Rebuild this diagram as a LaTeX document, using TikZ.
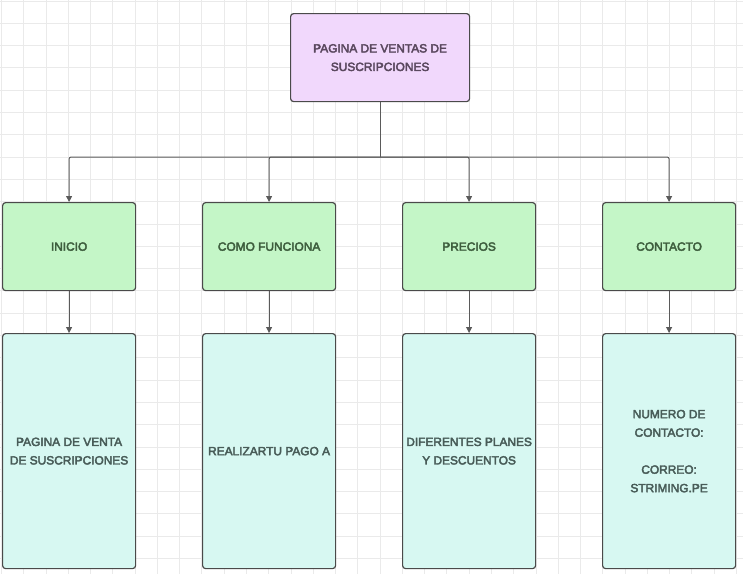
\documentclass[tikz,border=0pt]{standalone}
\usepackage{fontspec}
\setmainfont{Liberation Sans}[FakeBold=3.4]
\usetikzlibrary{arrows.meta}
\definecolor{gridline}{HTML}{EAEAEA}
\definecolor{edge}{HTML}{4A4A4A}
\definecolor{wire}{HTML}{5A5A5A}
\definecolor{lavender}{HTML}{F1D8FC}
\definecolor{mint}{HTML}{C4F6C7}
\definecolor{aqua}{HTML}{D7F8F2}
\definecolor{lavtext}{HTML}{5A485E}
\definecolor{minttext}{HTML}{3E5E3E}
\definecolor{aquatext}{HTML}{485C58}
\tikzset{
  card/.style={draw=edge, line width=1.2pt, rounded corners=3pt, anchor=north west,
    align=center, inner sep=0pt, font=\fontsize{11.9}{18.5}\selectfont},
  rootcard/.style={card, fill=lavender, text=lavtext, minimum width=179pt, minimum height=88pt},
  menucard/.style={card, fill=mint, text=minttext, minimum width=133pt, minimum height=88pt},
  infocard/.style={card, fill=aqua, text=aquatext, minimum width=133pt, minimum height=235pt},
  link/.style={draw=wire, line width=1pt, rounded corners=2pt},
  arrowlink/.style={link, -{Triangle[length=6pt,width=6pt]}}
}
\begin{document}
\begin{tikzpicture}[x=1pt,y=-1pt]
\useasboundingbox (0,0) rectangle (743,574);
% background grid
\foreach \i in {0,...,33} \draw[gridline, line width=0.9pt] ({1.5+22.27*\i},0) -- ({1.5+22.27*\i},574);
\foreach \j in {0,...,25} \draw[gridline, line width=0.9pt] (0,{1+22.3*\j}) -- (743,{1+22.3*\j});

% root
\node[rootcard] (root) at (290,13) {PAGINA DE VENTAS DE\\SUSCRIPCIONES};

% menu row
\node[menucard] (inicio) at (2,202) {INICIO};
\node[menucard] (como) at (202,202) {COMO FUNCIONA};
\node[menucard] (precios) at (402,202) {PRECIOS};
\node[menucard] (contacto) at (602,202) {CONTACTO};

% detail row
\node[infocard] (dinicio) at (2,333) {PAGINA DE VENTA\\DE SUSCRIPCIONES};
\node[infocard] (dcomo) at (202,333) {REALIZARTU PAGO A};
\node[infocard] (dprecios) at (402,333) {DIFERENTES PLANES\\Y DESCUENTOS};
\node[infocard] (dcontacto) at (602,333) {NUMERO DE\\CONTACTO:\\[18.5pt]CORREO:\\STRIMING.PE};

% connectors
\coordinate (bus) at (root.south |- 0,157);
\draw[link] (root.south) -- (bus);
\foreach \n in {inicio,como,precios,contacto}
  \draw[arrowlink] (bus) -| (\n.north);
\draw[arrowlink] (inicio.south) -- (dinicio.north);
\draw[arrowlink] (como.south) -- (dcomo.north);
\draw[arrowlink] (precios.south) -- (dprecios.north);
\draw[arrowlink] (contacto.south) -- (dcontacto.north);
\end{tikzpicture}
\end{document}
